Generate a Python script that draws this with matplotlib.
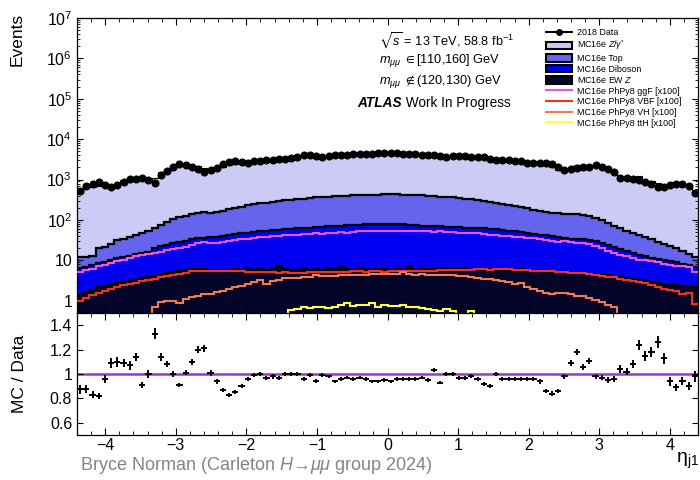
import numpy as np
import matplotlib.pyplot as plt
from matplotlib.lines import Line2D
from matplotlib.patches import Patch
from matplotlib.ticker import MultipleLocator, LogLocator, NullFormatter

plt.rcParams['font.family'] = ['Liberation Sans', 'DejaVu Sans']
plt.rcParams['mathtext.fontset'] = 'custom'
plt.rcParams['mathtext.rm'] = 'Liberation Sans'
plt.rcParams['mathtext.it'] = 'Liberation Sans:italic'
plt.rcParams['mathtext.bf'] = 'Liberation Sans:bold'
plt.rcParams['mathtext.fallback'] = 'stix'

# eta_j1 binning: 100 bins from -4.4 to 4.4
edges = np.linspace(-4.4, 4.4, 101)
centers = 0.5 * (edges[:-1] + edges[1:])

# 2018 data (events per bin)
data = [525, 710, 775, 850, 725, 660, 740, 890, 1020, 1020,
        1120, 1000, 810, 1320, 1660, 2000, 2400, 2290, 2000, 1820,
        1580, 1700, 1900, 2400, 2750, 2820, 2750, 2630, 2820, 2880,
        3020, 3090, 3160, 3240, 3390, 3630, 3980, 4070, 3890, 3630,
        3800, 3980, 4070, 4170, 4270, 4270, 4270, 4370, 4470, 4470,
        4470, 4470, 4370, 4270, 4270, 4170, 4070, 3980, 3890, 3720,
        3800, 3890, 3890, 3720, 3630, 3550, 3310, 3090, 3020, 3020,
        2880, 2820, 2630, 2570, 2510, 2510, 2400, 2000, 1780, 1820,
        1900, 2000, 2040, 2290, 2000, 1820, 1510, 1120, 1100, 1020,
        1000, 850, 775, 660, 645, 740, 795, 775, 710, 480]

# MC / Data ratio
ratio = [0.875, 0.875, 0.83, 0.82, 0.96, 1.09, 1.10, 1.09, 1.07, 1.14,
         0.91, 1.00, 1.33, 1.14, 1.08, 1.00, 0.91, 1.01, 1.10, 1.20,
         1.21, 1.01, 0.94, 0.87, 0.83, 0.85, 0.90, 0.96, 0.99, 1.00,
         0.97, 0.98, 0.97, 1.00, 1.00, 1.00, 0.96, 0.99, 0.94, 0.99,
         0.98, 0.94, 0.96, 0.97, 0.96, 0.97, 0.96, 0.94, 0.94, 0.95,
         0.94, 0.96, 0.96, 0.96, 0.96, 0.97, 0.95, 1.03, 0.93, 1.00,
         1.00, 0.97, 0.97, 0.98, 0.96, 0.92, 0.90, 1.00, 0.96, 0.96,
         0.96, 0.96, 0.96, 0.96, 0.94, 0.86, 0.84, 0.86, 0.98, 1.09,
         1.18, 1.06, 1.11, 0.98, 0.97, 0.95, 0.96, 1.04, 1.02, 1.08,
         1.24, 1.15, 1.18, 1.26, 1.13, 0.94, 0.89, 0.94, 0.90, 0.98]

# stacked MC, cumulative upper edges (EW Z, +Diboson, +Top)
stack_ewz = [1.4, 1.6, 1.85, 2.15, 2.3, 2.5, 2.7, 2.95, 3.15, 3.3,
             3.6, 4.0, 4.2, 4.45, 4.8, 5.2, 5.6, 5.9, 6.3, 6.0,
             6.2, 5.9, 5.75, 5.9, 5.75, 6.0, 5.75, 6.6, 5.9, 6.0,
             5.75, 6.0, 7.2, 6.2, 5.9, 5.9, 6.0, 5.9, 6.0, 5.75,
             6.0, 6.3, 6.9, 6.0, 5.9, 6.2, 6.5, 5.9, 6.2, 6.3,
             5.75, 6.0, 5.9, 6.8, 5.9, 6.0, 6.2, 6.2, 6.0, 6.6,
             6.0, 6.3, 6.2, 5.9, 6.2, 6.3, 6.0, 5.9, 6.0, 5.75,
             5.9, 6.2, 5.6, 5.5, 5.75, 5.4, 5.25, 5.0, 5.1, 5.0,
             4.8, 4.9, 4.7, 4.6, 4.4, 4.3, 4.0, 3.9, 3.7, 3.55,
             3.3, 3.1, 2.9, 2.75, 2.6, 2.5, 2.4, 2.3, 2.25, 2.2]

stack_diboson = [6.5, 6.9, 7.6, 8.5, 9.3, 10.2, 11.2, 12.0, 12.9, 14.1,
                 15.1, 16.6, 20, 22.4, 24.5, 26.3, 28.2, 30.9, 33.1, 35.5,
                 36.3, 37.2, 38, 40.7, 42.7, 44.7, 46.8, 49, 51.3, 52.5,
                 55, 56.2, 57.5, 58.9, 60.3, 61.7, 63, 64.6, 66, 67.6,
                 69.2, 70.8, 72.4, 74.1, 74.1, 75.9, 77.6, 77.6, 79.4, 81.3,
                 79.4, 79.4, 77.6, 75.9, 74.1, 72.4, 70.8, 69.2, 69.2, 67.6,
                 67.6, 66, 64.6, 63, 61.7, 61.7, 60.3, 58.9, 57.5, 55,
                 52.5, 50.1, 47.9, 45.7, 43.7, 41.7, 39.8, 38, 35.5, 33.9,
                 33.9, 33.1, 31.6, 29.5, 26.9, 24, 21.4, 19.1, 17.4, 15.5,
                 13.8, 12.6, 11.5, 10.7, 10.2, 9.5, 9.1, 8.3, 7.6, 6.8]

stack_top = [12.0, 12.0, 13.2, 20, 21.4, 25, 31.6, 33.9, 38, 42.7,
             46.8, 52.5, 63, 76, 89, 105, 117, 129, 141, 148,
             155, 151, 155, 170, 186, 200, 214, 229, 245, 257,
             269, 282, 295, 309, 316, 331, 339, 347, 363, 372,
             380, 389, 389, 398, 407, 417, 417, 427, 427, 437,
             437, 437, 427, 427, 417, 407, 398, 389, 380, 372,
             363, 355, 339, 324, 309, 288, 275, 263, 251, 240,
             224, 209, 195, 182, 170, 158, 151, 148, 145, 141,
             141, 135, 126, 112, 100, 85, 72, 63, 55, 48,
             42, 37, 33, 29, 25.7, 22.4, 20, 17.4, 14.5, 12.0]

# signal samples scaled x100
ggf = [5.25, 5.75, 6.3, 7.1, 7.9, 8.7, 9.5, 10.5, 11.5, 12.6,
       13.5, 14.5, 15.5, 16.6, 17.8, 19.1, 20.4, 21.9, 24, 26.3,
       28.2, 27.5, 26.9, 28.8, 30.2, 31.6, 33.1, 34.7, 36.3, 37.2,
       38, 39.8, 40.7, 42.7, 43.7, 43.7, 45.7, 44.7, 46.8, 45.7,
       46.8, 47.9, 50.1, 49, 51.3, 52.5, 52.5, 53.7, 52.5, 55,
       53.7, 55, 53.7, 52.5, 53.7, 52.5, 53.7, 51.3, 52.5, 50.1,
       51.3, 49, 47.9, 46.8, 46.8, 44.7, 43.7, 42.7, 40.7, 39.8,
       38.9, 38, 36.3, 35.5, 33.1, 31.6, 30.2, 28.8, 29.5, 28.8,
       26.9, 26.3, 25.1, 22.9, 20, 17.4, 15.1, 13.8, 12.6, 11.5,
       10.5, 10, 9.5, 8.9, 8.3, 7.9, 7.4, 7.1, 6.9, 5.1]

vbf = [1.0, 1.2, 1.4, 1.6, 1.8, 2.0, 2.2, 2.4, 2.6, 2.8,
       3.1, 3.3, 3.55, 3.8, 4.2, 4.45, 4.7, 5.0, 5.4, 5.5,
       5.6, 5.6, 5.5, 5.5, 5.5, 5.4, 5.4, 5.25, 5.25, 5.25,
       5.1, 5.1, 5.0, 5.1, 5.0, 5.0, 5.0, 5.1, 5.1, 5.25,
       5.1, 5.25, 5.25, 5.25, 5.4, 5.4, 5.25, 5.4, 5.4, 5.25,
       5.4, 5.4, 5.5, 5.5, 5.4, 5.5, 5.6, 5.6, 5.75, 5.75,
       5.75, 5.9, 5.9, 5.9, 6.0, 6.0, 5.9, 6.0, 6.0, 6.0,
       5.9, 5.75, 5.9, 5.6, 5.5, 5.5, 5.4, 5.25, 5.25, 5.0,
       4.9, 4.8, 4.6, 4.4, 4.2, 4.0, 3.8, 3.55, 3.3, 3.15,
       3.0, 2.75, 2.5, 2.25, 2.0, 1.85, 1.75, 1.5, 1.6, 0.85]

vh = [0.3, 0.3, 0.3, 0.3, 0.3, 0.3, 0.3, 0.3, 0.3, 0.3,
      0.3, 0.3, 0.70, 0.95, 0.98, 1.0, 0.88, 1.1, 1.25, 1.35,
      1.45, 1.5, 1.65, 1.8, 2.0, 2.2, 2.3, 2.6, 2.9, 3.2,
      2.6, 3.1, 3.3, 3.6, 3.6, 3.7, 3.9, 4.0, 4.3, 4.2,
      4.1, 4.2, 4.3, 4.4, 4.3, 4.4, 4.3, 4.5, 4.6, 4.7,
      4.5, 4.6, 5.1, 4.6, 4.4, 4.5, 4.3, 4.4, 4.3, 4.4,
      4.3, 4.2, 4.1, 4.0, 3.7, 3.5, 3.4, 3.3, 3.1, 2.9,
      2.6, 2.8, 2.2, 2.0, 1.8, 1.6, 1.5, 1.55, 1.6, 1.5,
      1.35, 1.3, 1.2, 1.05, 0.95, 0.8, 0.7, 0.3, 0.3, 0.3,
      0.3, 0.3, 0.3, 0.3, 0.3, 0.3, 0.3, 0.3, 0.3, 0.3]

tth = [0.3, 0.3, 0.3, 0.3, 0.3, 0.3, 0.3, 0.3, 0.3, 0.3,
       0.3, 0.3, 0.3, 0.3, 0.3, 0.3, 0.3, 0.3, 0.3, 0.3,
       0.3, 0.3, 0.3, 0.3, 0.3, 0.3, 0.3, 0.3, 0.3, 0.3,
       0.3, 0.3, 0.3, 0.3, 0.6, 0.63, 0.72, 0.66, 0.7, 0.7,
       0.68, 0.72, 0.78, 0.87, 0.75, 0.8, 0.78, 0.86, 0.72, 0.78,
       0.74, 0.76, 0.78, 0.72, 0.7, 0.68, 0.64, 0.6, 0.56, 0.62,
       0.57, 0.3, 0.3, 0.55, 0.3, 0.3, 0.3, 0.3, 0.3, 0.3,
       0.3, 0.3, 0.3, 0.3, 0.3, 0.3, 0.3, 0.3, 0.3, 0.3,
       0.3, 0.3, 0.3, 0.3, 0.3, 0.3, 0.3, 0.3, 0.3, 0.3,
       0.3, 0.3, 0.3, 0.3, 0.3, 0.3, 0.3, 0.3, 0.3, 0.3]

data = np.array(data, dtype=float)
ratio = np.array(ratio)
mc_total = ratio * data  # Z/gamma* sits on top of the rest

c_z = '#cbcbf6'
c_top = '#6464ec'
c_dib = '#0000f0'
c_ewz = '#05052a'
c_ggf = '#ee55dd'
c_vbf = '#f03222'
c_vh = '#f07a52'
c_tth = '#ffff3c'
c_line = '#9b33dd'

fig = plt.figure(figsize=(7, 4.8), dpi=100)
ax = fig.add_axes([77 / 700, (480 - 313) / 480, 621 / 700, 295 / 480])
ax2 = fig.add_axes([77 / 700, (480 - 435) / 480, 621 / 700, 122 / 480], sharex=ax)

# stacked backgrounds
ax.stairs(stack_ewz, edges, baseline=1e-3, fill=True, color=c_ewz, zorder=1)
ax.stairs(stack_diboson, edges, baseline=stack_ewz, fill=True, color=c_dib, zorder=1)
ax.stairs(stack_top, edges, baseline=stack_diboson, fill=True, color=c_top, zorder=1)
ax.stairs(mc_total, edges, baseline=stack_top, fill=True, color=c_z, zorder=1)
for v in (stack_ewz, stack_diboson, stack_top):
    ax.stairs(v, edges, baseline=None, color='black', lw=1.6, zorder=2)
ax.stairs(mc_total, edges, baseline=None, color='black', lw=0.8, zorder=2)

# signals
for v, c in ((ggf, c_ggf), (vbf, c_vbf), (vh, c_vh), (tth, c_tth)):
    ax.stairs(v, edges, baseline=None, color=c, lw=1.5, zorder=3)

ax.plot(centers, data, 'o', color='black', ms=4.8, zorder=5)

ax.set_yscale('log')
ax.set_ylim(0.5, 1e7)
ax.set_xlim(-4.4, 4.4)
yt = [1, 10, 1e2, 1e3, 1e4, 1e5, 1e6, 1e7]
ax.set_yticks(yt)
ax.set_yticklabels(['1', '10'] + [r'$10^{%d}$' % n for n in range(2, 8)])
ax.yaxis.set_minor_locator(LogLocator(base=10, subs=np.arange(2, 10), numticks=20))
ax.yaxis.set_minor_formatter(NullFormatter())
ax.xaxis.set_major_locator(MultipleLocator(1))
ax.xaxis.set_minor_locator(MultipleLocator(0.2))
ax.tick_params(axis='x', labelbottom=False)
ax.set_ylabel('Events', fontsize=12.5, loc='top')
ax.yaxis.set_label_coords(-0.085, 1.017)

# ratio panel
ax2.axhline(1, color=c_line, lw=1.8, zorder=1)
ax2.errorbar(centers, ratio, xerr=0.044, yerr=ratio / np.sqrt(data),
             fmt='none', ecolor='black', elinewidth=1.4, zorder=3)
ax2.set_ylim(0.5, 1.5)
ax2.set_yticks([0.6, 0.8, 1.0, 1.2, 1.4])
ax2.set_yticklabels(['0.6', '0.8', '1', '1.2', '1.4'])
ax2.set_ylabel('MC / Data', fontsize=12.5)
ax2.yaxis.set_label_coords(-0.08, 0.5)

for a in (ax, ax2):
    a.tick_params(which='both', direction='in', top=True, right=True, labelsize=11.5)
    a.tick_params(axis='x', which='major', length=5)
    a.tick_params(axis='x', which='minor', length=2.7)
    a.tick_params(axis='y', which='major', length=4)
    a.tick_params(axis='y', which='minor', length=2)
    for s in a.spines.values():
        s.set_linewidth(0.9)
ax2.tick_params(axis='x', which='major', pad=2)

fig.text(0.9986, 1 - 461 / 480, 'η$_{\\mathrm{j1}}$', ha='right', va='center', fontsize=14)

# legend
handles = [
    Line2D([], [], color='black', marker='o', ms=4, lw=1.5),
    Patch(facecolor=c_z, edgecolor='black', lw=1.5),
    Patch(facecolor=c_top, edgecolor='black', lw=1.5),
    Patch(facecolor=c_dib, edgecolor='black', lw=1.5),
    Patch(facecolor=c_ewz, edgecolor='black', lw=1.5),
    Line2D([], [], color=c_ggf, lw=1.5),
    Line2D([], [], color=c_vbf, lw=1.5),
    Line2D([], [], color=c_vh, lw=1.5),
    Line2D([], [], color=c_tth, lw=1.5),
]
labels = ['2018 Data', r'MC16e $Z/\gamma^{*}$', 'MC16e Top', 'MC16e Diboson',
          r'MC16e EW $Z$', 'MC16e PhPy8 ggF [x100]', 'MC16e PhPy8 VBF [x100]',
          'MC16e PhPy8 VH [x100]', 'MC16e PhPy8 ttH [x100]']
ax.legend(handles, labels, loc='upper left', bbox_to_anchor=(0.7556, 0.966),
          frameon=False, fontsize=6.4, handlelength=2.9, handleheight=0.9,
          handletextpad=0.55, labelspacing=0.18, borderpad=0, borderaxespad=0)

# annotations
fs = 9.2
fig.text(379 / 700, 1 - 41 / 480, r'$\sqrt{s}$ = 13 TeV, 58.8 fb$^{-1}$', fontsize=fs, va='center')
fig.text(379 / 700, 1 - 61 / 480, r'$m_{\mu\mu}$ $\in$[110,160] GeV', fontsize=fs, va='center')
fig.text(379 / 700, 1 - 82 / 480, r'$m_{\mu\mu}$ $\notin$(120,130) GeV', fontsize=fs, va='center')
t = fig.text(357 / 700, 1 - 103 / 480, 'ATLAS', fontsize=9.8, fontweight='bold',
             fontstyle='italic', va='center')
ax.annotate(' Work In Progress', xy=(1, 0), xycoords=t, va='bottom', ha='left', fontsize=9.8)

fig.text(80 / 700, 1 - 466 / 480, r'Bryce Norman (Carleton $H$→$\mu\mu$ group 2024)',
         fontsize=13, color='#858585', va='center')

fig.savefig('out.png', dpi=100)
